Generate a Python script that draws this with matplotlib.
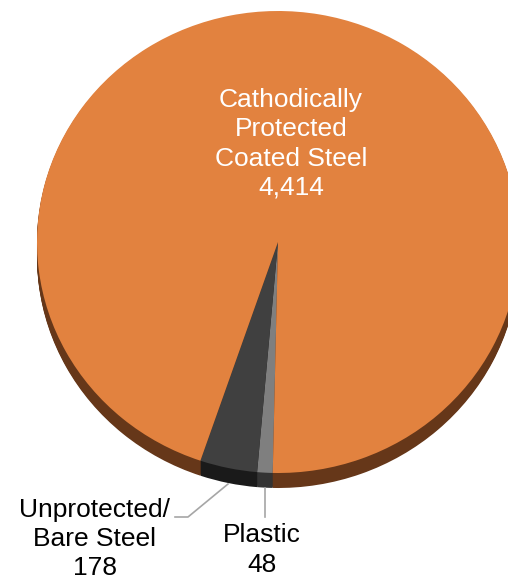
import matplotlib
matplotlib.use("Agg")
import matplotlib.pyplot as plt

# Data
categories = ["Plastic", "Unprotected/\nBare Steel", "Cathodically\nProtected\nCoated Steel"]
values = [48, 178, 4414]
value_labels = ["48", "178", "4,414"]

top_colors = ["#7f7f7f", "#404040", "#E2823F"]
side_colors = ["#333333", "#1a1a1a", "#663719"]

W, H = 508, 578
fig = plt.figure(figsize=(W / 100, H / 100), dpi=100)
ax = fig.add_axes([0, 0, 1, 1])

# pixel geometry of pie
cx, cy, rx, ry = 278, 242, 241, 231
thick = 15

def nx(px):
    return (px - cx) / rx

def ny(py):
    return (cy - py) / ry

plt.rcParams['font.family'] = ['Liberation Sans', 'DejaVu Sans']

# side (extrusion) layers
n_layers = 16
for i in range(n_layers, 0, -1):
    off = -thick * i / n_layers / ry
    ax.pie(values, colors=side_colors, startangle=-91.25, counterclock=False,
           center=(0, off), radius=1, frame=True,
           wedgeprops=dict(linewidth=0, antialiased=True))
# top
ax.pie(values, colors=top_colors, startangle=-91.25, counterclock=False,
       center=(0, 0), radius=1, frame=True,
       wedgeprops=dict(linewidth=0, antialiased=True))

ax.set_aspect('auto')
ax.set_xlim(nx(0), nx(W))
ax.set_ylim(ny(H), ny(0))
ax.axis('off')

# labels
ls = 1.27
ax.text(nx(291), ny(144), categories[2] + "\n" + value_labels[2], color="white",
        fontsize=19, ha="center", va="center", linespacing=ls)
ax.text(nx(95), ny(539), categories[1] + "\n" + value_labels[1], color="black",
        fontsize=19, ha="center", va="center", linespacing=ls)
ax.text(nx(262), ny(550), categories[0] + "\n" + value_labels[0], color="black",
        fontsize=19, ha="center", va="center", linespacing=ls)

# leader lines
ax.plot([nx(175), nx(188), nx(228)], [ny(517), ny(517), ny(484)], color="#a6a6a6", lw=1.2)
ax.plot([nx(265), nx(265)], [ny(488), ny(517)], color="#a6a6a6", lw=1.2)

fig.savefig("out.png", dpi=100)
